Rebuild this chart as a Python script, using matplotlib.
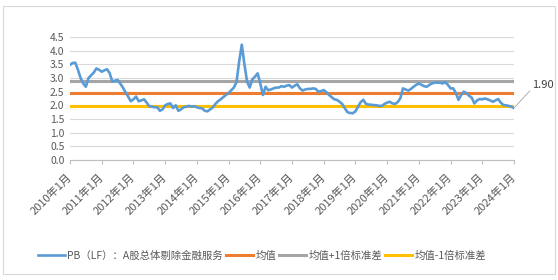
import numpy as np
import matplotlib.pyplot as plt
from matplotlib.patches import Rectangle

plt.rcParams['font.family'] = ['Noto Sans CJK SC', 'DejaVu Sans']

# PB(LF) 月度数据 2010年1月 - 2024年1月
pb = [3.48, 3.55, 3.56, 3.30, 3.00, 2.80, 2.68, 3.00, 3.10, 3.20, 3.35, 3.30,
      3.23, 3.28, 3.32, 3.18, 2.87, 2.90, 2.93, 2.80, 2.65, 2.48, 2.32, 2.15,
      2.22, 2.32, 2.15, 2.18, 2.22, 2.10, 1.97, 1.95, 1.93, 1.93, 1.80, 1.85,
      2.00, 2.05, 2.07, 1.90, 2.00, 1.80, 1.85, 1.93, 1.95, 1.98, 1.95, 1.97,
      1.93, 1.90, 1.89, 1.80, 1.78, 1.85, 1.92, 2.05, 2.15, 2.22, 2.30, 2.38,
      2.45, 2.55, 2.65, 2.85, 3.60, 4.22, 3.50, 2.87, 2.65, 2.95, 3.05, 3.17,
      2.80, 2.38, 2.68, 2.55, 2.58, 2.62, 2.65, 2.65, 2.70, 2.68, 2.72, 2.74,
      2.65, 2.72, 2.77, 2.62, 2.54, 2.58, 2.60, 2.60, 2.62, 2.60, 2.50, 2.52,
      2.56, 2.48, 2.38, 2.30, 2.22, 2.20, 2.13, 2.05, 1.89, 1.75, 1.72, 1.71,
      1.78, 1.95, 2.12, 2.20, 2.05, 2.03, 2.02, 2.01, 2.00, 1.98, 1.98, 2.05,
      2.10, 2.13, 2.07, 2.05, 2.12, 2.26, 2.62, 2.58, 2.54, 2.60, 2.68, 2.75,
      2.80, 2.75, 2.70, 2.68, 2.75, 2.80, 2.83, 2.83, 2.83, 2.80, 2.85, 2.75,
      2.62, 2.62, 2.45, 2.20, 2.38, 2.50, 2.45, 2.35, 2.28, 2.07, 2.18, 2.23,
      2.22, 2.25, 2.22, 2.18, 2.13, 2.18, 2.23, 2.10, 2.01, 2.00, 1.98, 1.95,
      1.90]
mean_v = 2.45
upper_v = 2.90
lower_v = 1.98
years = list(range(2010, 2025))
tick_labels = [f'{y}年1月' for y in years]

names = ['PB（LF）：A股总体剔除金融服务', '均值', '均值+1倍标准差', '均值-1倍标准差']
colors = ['#5B9BD5', '#ED7D31', '#A5A5A5', '#FFC000']

x = np.arange(len(pb))
fig = plt.figure(figsize=(5.58, 2.80), dpi=100)
ax = fig.add_axes([70/558, 1-160/280, (514-70)/558, (160-37)/280])

ax.plot(x, [mean_v]*len(x), color=colors[1], lw=2.2, label=names[1], zorder=2)
ax.plot(x, [upper_v]*len(x), color=colors[2], lw=2.2, label=names[2], zorder=2)
ax.plot(x, [lower_v]*len(x), color=colors[3], lw=2.2, label=names[3], zorder=2)
ax.plot(x, pb, color=colors[0], lw=1.9, label=names[0], zorder=3)

ax.set_xlim(0, len(pb)-1)
ax.set_ylim(0, 4.5)
ax.set_yticks(np.arange(0, 4.51, 0.5))
ax.set_yticklabels([f'{v:.1f}' for v in np.arange(0, 4.51, 0.5)])
ax.yaxis.grid(True, color='#D9D9D9', lw=0.8)
ax.set_axisbelow(True)
ax.set_xticks(np.arange(0, len(pb), 12))
ax.set_xticklabels(tick_labels, rotation=45, ha='right', va='center',
                   rotation_mode='anchor')
for s in ['top', 'right', 'left']:
    ax.spines[s].set_visible(False)
ax.spines['bottom'].set_color('#BFBFBF')
ax.tick_params(axis='y', length=0, labelsize=7.5, colors='#595959', pad=4)
ax.tick_params(axis='x', length=3, color='#BFBFBF', labelsize=8, colors='#595959', pad=8)

# 最新值标注
ax.annotate(f'{pb[-1]:.2f}', xy=(x[-1], pb[-1]), xytext=(x[-1]+7, 2.75),
            fontsize=8, color='#404040', va='center', ha='left',
            arrowprops=dict(arrowstyle='-', color='#A5A5A5', lw=0.6,
                            shrinkA=0, shrinkB=0, relpos=(0, 0.2)),
            annotation_clip=False)

h, l = ax.get_legend_handles_labels()
order = [3, 0, 1, 2]
fig.legend([h[i] for i in order], [l[i] for i in order], loc='center',
           bbox_to_anchor=(262/558, 1-256/280), ncol=4, frameon=False,
           fontsize=7.5, handlelength=2.6, handletextpad=0.2, columnspacing=0.3,
           labelcolor='#595959')

fig.patches.append(Rectangle((3/558, 6/280), 552/558, 268/280, transform=fig.transFigure,
                             fill=False, edgecolor='#D9D9D9', lw=0.8))

fig.savefig('out.png', dpi=100)
